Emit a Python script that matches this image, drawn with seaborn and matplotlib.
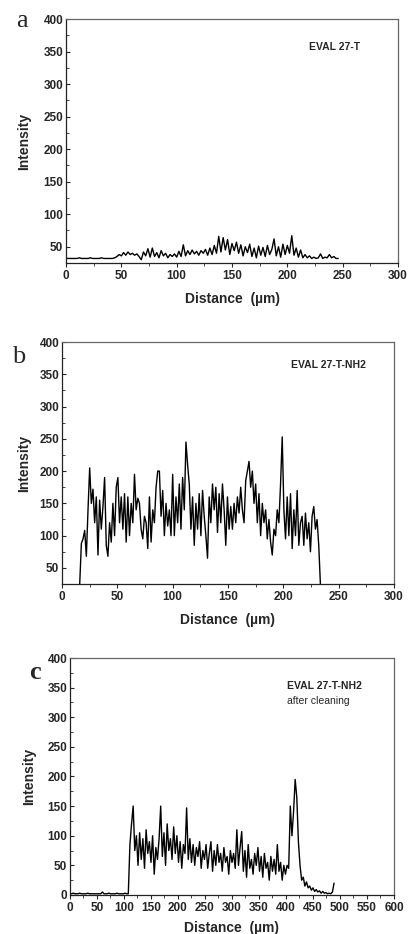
import numpy as np
import matplotlib
matplotlib.use("Agg")
import matplotlib.pyplot as plt
from matplotlib.ticker import MultipleLocator
import seaborn as sns

sns.set_style("ticks")
plt.rcParams["font.family"] = ["Liberation Sans", "DejaVu Sans"]

# Panel a: EVAL 27-T, sampled every 2 um from 0 to 246 um
A_START, A_END = 0, 246
a_intensity = [
    32, 32, 32, 32, 32, 32, 33, 32, 32, 32, 32, 33, 32, 32, 32, 32, 33, 32, 32, 32, 32, 32, 33,
    35, 38, 36, 41, 37, 42, 38, 40, 37, 39, 35, 30, 42, 36, 47, 34, 48, 35, 41, 33, 44, 36,
    40, 33, 38, 35, 39, 34, 43, 35, 53, 36, 44, 38, 45, 39, 43, 37, 44, 40, 46, 37, 48, 38,
    52, 40, 66, 42, 64, 45, 61, 38, 55, 44, 57, 40, 53, 36, 50, 41, 54, 35, 48, 33, 51, 37,
    49, 35, 52, 38, 46, 62, 36, 50, 34, 54, 38, 52, 40, 67, 37, 48, 34, 45, 33, 38, 33, 36,
    32, 34, 32, 33, 39, 32, 34, 33, 38, 33, 35, 32, 32,
]

# Panel b: EVAL 27-T-NH2, sampled every 1.5 um from 16 to 233.5 um
B_START, B_END = 16, 233.5
b_intensity = [
    25, 88, 95, 108, 68, 140, 205, 150, 172, 120, 160, 70, 155, 110, 145, 190, 85, 68,
    120, 90, 150, 100, 175, 190, 120, 160, 110, 165, 90, 160, 100, 150, 120, 195, 140,
    158, 150, 110, 95, 130, 120, 80, 160, 90, 140, 120, 175, 200, 200, 130, 170, 100,
    150, 115, 140, 100, 195, 100, 160, 120, 180, 110, 190, 140, 245, 210, 180, 110, 160,
    85, 150, 110, 165, 100, 170, 130, 100, 65, 160, 120, 180, 140, 175, 105, 165, 120,
    180, 140, 85, 160, 110, 145, 110, 150, 120, 160, 135, 175, 140, 120, 185, 200, 215,
    175, 200, 150, 180, 120, 165, 100, 150, 120, 140, 95, 125, 90, 70, 110, 100, 140,
    120, 180, 253, 140, 95, 160, 100, 165, 80, 140, 100, 170, 85, 120, 130, 85, 135, 95,
    120, 75, 130, 145, 110, 125, 85, 25,
]

# Panel c: EVAL 27-T-NH2 after cleaning, sampled every 3 um from 0 to 489 um
C_START, C_END = 0, 489
c_intensity = [
    2, 2, 3, 2, 2, 2, 3, 2, 2, 2, 2, 3, 2, 2, 2, 2, 2, 2, 2, 2, 5, 2, 2, 2, 3, 2, 2, 2,
    2, 3, 2, 2, 2, 2, 3, 2, 2,
    85, 120, 150, 75, 100, 50, 105, 60, 95, 45, 110, 70, 90, 55, 100, 35, 80, 60, 95,
    150, 65, 105, 50, 120, 75, 95, 60, 115, 70, 100, 55, 90, 45, 85, 70, 147, 60, 95,
    55, 85, 50, 80, 65, 90, 45, 75, 60, 85, 45, 70, 90, 40, 75, 50, 85, 55, 70, 40, 80,
    55, 65, 35, 75, 55, 70, 45, 110, 50, 80, 107, 40, 75, 30, 85, 45, 60, 35, 70, 50,
    80, 40, 65, 30, 70, 45, 55, 25, 65, 40, 60, 35, 85, 40, 55, 25, 50, 35, 50,
    45, 150, 100, 140, 195, 165, 90, 50, 25, 30, 15, 22, 12, 15, 8, 12, 6, 9, 5, 7, 3,
    6, 3, 4, 2, 3, 2, 5, 20,
]

panels = [
    dict(letter="a", rect=[0.1614, 0.7184, 0.8117, 0.2612], start=A_START, end=A_END,
         vals=a_intensity, xlim=(0, 300), ylim=(25, 400), label=("EVAL 27-T", None),
         label_xy=(220, 357), letter_xy=(0.040, 0.978), xpad=7, ypad=9),
    dict(letter="b", rect=[0.1516, 0.3747, 0.8117, 0.2591], start=B_START, end=B_END,
         vals=b_intensity, xlim=(0, 300), ylim=(25, 400), label=("EVAL 27-T-NH2", None),
         label_xy=(207, 365), letter_xy=(0.030, 0.618), xpad=7, ypad=6),
    dict(letter="c", rect=[0.1711, 0.0418, 0.7922, 0.2537], start=C_START, end=C_END,
         vals=c_intensity, xlim=(0, 600), ylim=(0, 400),
         label=("EVAL 27-T-NH2", "after cleaning"),
         label_xy=(402, 352), letter_xy=(0.070, 0.280), xpad=5, ypad=8),
]

fig = plt.figure(figsize=(4.09, 9.34), dpi=100)

for p in panels:
    ax = fig.add_axes(p["rect"])
    x = np.linspace(p["start"], p["end"], len(p["vals"]))
    sns.lineplot(x=x, y=p["vals"], ax=ax, color="black", lw=1.0, estimator=None)
    ax.set_xlim(*p["xlim"])
    ax.set_ylim(*p["ylim"])
    ax.xaxis.set_major_locator(MultipleLocator(50))
    ax.xaxis.set_minor_locator(MultipleLocator(25))
    ax.yaxis.set_major_locator(MultipleLocator(50))
    ax.yaxis.set_minor_locator(MultipleLocator(25))
    if p["ylim"][0] == 25:
        ax.set_yticks([50, 100, 150, 200, 250, 300, 350, 400])
    ax.tick_params(axis="y", which="both", direction="in")
    ax.tick_params(axis="x", which="both", direction="out")
    ax.tick_params(which="major", length=3, width=0.8, labelsize=8.5, pad=2)
    ax.tick_params(which="minor", length=2, width=0.6)
    for t in ax.get_xticklabels() + ax.get_yticklabels():
        t.set_fontweight("bold")
    for side in ["top", "right"]:
        ax.spines[side].set_color("#666666")
    for side in ["bottom", "left"]:
        ax.spines[side].set_color("#222222")
    for s in ax.spines.values():
        s.set_linewidth(0.9)
    ax.set_xlabel("Distance  (\u00b5m)", fontsize=10, fontweight="bold", labelpad=p["xpad"])
    ax.set_ylabel("Intensity", fontsize=10, fontweight="bold", labelpad=p["ypad"])

    main, sub = p["label"]
    ax.text(p["label_xy"][0], p["label_xy"][1], main, fontsize=7.5, fontweight="bold",
            va="center", ha="left")
    if sub:
        ax.text(p["label_xy"][0], p["label_xy"][1] - 24, sub, fontsize=7.5,
                va="center", ha="left")

    fig.text(p["letter_xy"][0], p["letter_xy"][1], p["letter"], fontsize=19,
             family=["Liberation Serif", "DejaVu Serif"], va="center", ha="left",
             fontweight="bold" if p["letter"] == "c" else "normal")

fig.savefig("out.png", dpi=100)
